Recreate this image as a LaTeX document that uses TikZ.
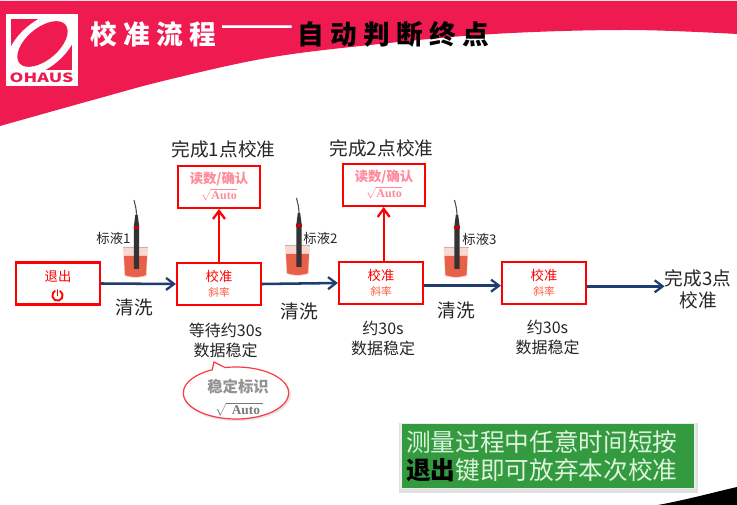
\documentclass[tikz,border=0pt]{standalone}
\usepackage{fontspec}
\usepackage{graphicx}
\setmainfont{Noto Sans CJK SC}
\newfontfamily\serifbold[Scale=1]{Liberation Serif}
\usetikzlibrary{arrows.meta,shapes.callouts,shapes.geometric,calc}
\definecolor{hdr}{HTML}{EE1A50}
\definecolor{navy}{HTML}{1F3D6E}
\definecolor{pinktxt}{HTML}{FF8A9A}
\definecolor{slopetxt}{HTML}{FF5A3C}
\definecolor{greenbox}{HTML}{339A3F}
\definecolor{greentxt}{HTML}{DDF3DC}
\definecolor{liquid}{HTML}{E9604A}
\definecolor{txt}{HTML}{262626}
\tikzset{
  lbl/.style={inner sep=0pt,text=txt,font=\fontsize{14}{16.5}\selectfont,align=center},
  small/.style={inner sep=0pt,text=txt,font=\fontsize{10}{12}\selectfont},
  mid/.style={inner sep=0pt,text=txt,font=\fontsize{12}{15}\selectfont,align=center},
  calbox/.style={draw=red,line width=1.6pt,fill=white,minimum width=63pt,minimum height=31.5pt,inner sep=0pt,align=center,text=red,font=\fontsize{10}{12}\selectfont},
  readbox/.style={draw=red,line width=1.6pt,fill=white,minimum width=61.5pt,minimum height=31.5pt,inner sep=0pt,align=center,text=pinktxt,font=\bfseries\fontsize{10}{12}\selectfont},
  flow/.style={draw=navy,line width=1.9pt,-{Straight Barb[length=6pt,width=9pt,line width=1.7pt]}},
  up/.style={draw=red,line width=1.7pt,-{Straight Barb[length=6pt,width=9pt,line width=1.7pt]}},
  ttl/.style={inner sep=0pt,font=\bfseries\fontsize{20}{22}\selectfont},
}
\newcommand{\slopetext}{\textcolor{slopetxt}{\fontsize{8}{10}\selectfont 斜率}}
\newcommand{\sqauto}{{\serifbold\bfseries\fontsize{9}{10}\selectfont $\sqrt{\hbox{Auto}}$}}
\begin{document}
\begin{tikzpicture}[x=0.75pt,y=-0.75pt]
\useasboundingbox (0,0) rectangle (737,505);
\fill[white] (0,0) rectangle (737,505);
% header band
\fill[hdr] (0,1) -- (737,1) -- plot[smooth,tension=0.6] coordinates {(737,34) (627,30) (493,34) (370,45) (267,58) (167,80) (100,98) (0,126)} -- cycle;
% bottom corner
\fill[black] (658,505) .. controls (690,499) and (715,492) .. (737,487) -- (737,505) -- cycle;
% logo
\fill[white] (6,14) rectangle (78,86);
\begin{scope}
\clip (11,19.5) rectangle (72,70.5);
\fill[hdr] (11,19.5) rectangle (72,70.5);
\fill[white,rotate around={40:(42,44.5)}] (42,44.5) ellipse (42 and 23);
\fill[hdr,rotate around={40:(42.5,44)}] (42.5,44) ellipse (30 and 16);
\end{scope}
\node[inner sep=0pt,text=hdr,font=\bfseries\fontsize{9.5}{10}\selectfont] (ohaus) at (41.5,77.5) {\scalebox{1.4}[1]{OHAUS}};
% title
\node[ttl,text=white,anchor=west] (t1) at (90,34) {校\hspace{4.8pt}准\hspace{4.8pt}流\hspace{4.8pt}程};
\node[inner sep=0pt,text=white,font=\fontsize{33}{35}\selectfont] (t2) at (257,33) {——};
\node[ttl,text=black,anchor=west] (t3) at (297,34) {自\hspace{4.8pt}动\hspace{4.8pt}判\hspace{4.8pt}断\hspace{4.8pt}终\hspace{4.8pt}点};
% beakers and probes
\foreach \bx/\by/\px in {135.5/247/136.5, 297.5/245/299, 456/247/457}{
  \fill[liquid!25] (\bx-12.5,\by) -- (\bx+12.5,\by) -- (\bx+11,\by+29) .. controls (\bx+5,\by+31.5) and (\bx-5,\by+31.5) .. (\bx-11,\by+29) -- cycle;
  \draw[gray!55,line width=0.5pt] (\bx-12.5,\by) -- (\bx+12.5,\by);
  \fill[liquid] (\bx-11.5,\by+9) -- (\bx+11.5,\by+9) -- (\bx+10.5,\by+28) .. controls (\bx+5,\by+30.5) and (\bx-5,\by+30.5) .. (\bx-10.5,\by+28) -- cycle;
  \fill[black!80] (\px-1.2,\by-32) -- (\px+1.2,\by-32) -- (\px+2.6,\by-21) -- (\px+2.6,\by+22) -- (\px-2.6,\by+22) -- (\px-2.6,\by-21) -- cycle;
  \draw[black!70,line width=0.8pt] (\px,\by-32) .. controls (\px,\by-39) and (\px-2,\by-44) .. (\px-2.5,\by-47);
  \fill[red!80!black] (\px-2.8,\by-21) rectangle (\px+2.8,\by-18);
}
% boxes
\node[calbox] (exit) at (58,283.5) {退出\\[-1pt]\phantom{\slopetext}};
\node[calbox] (cal1) at (219,284) {校准\\[-1pt]\slopetext};
\node[calbox] (cal2) at (381,283) {校准\\[-1pt]\slopetext};
\node[calbox] (cal3) at (544,283) {校准\\[-1pt]\slopetext};
\node[readbox] (read1) at (219,187) {读数/确认\\[0pt]\sqauto};
\node[readbox] (read2) at (384,185) {读数/确认\\[0pt]\sqauto};
% power icon
\draw[red,line width=1.4pt,line cap=round] (57.5,290) -- (57.5,295.5);
\draw[red,line width=1.4pt,line cap=round] (60.1,291) arc[start angle=-60,end angle=240,radius=5.2];
% labels
\node[lbl] (done1) at (223.5,149) {完成1点校准};
\node[lbl] (done2) at (381.5,148) {完成2点校准};
\node[lbl] (done3) at (698,289) {完成3点\\校准};
\node[small] (liq1) at (113.5,238) {标液1};
\node[small] (liq2) at (320.5,238) {标液2};
\node[small] (liq3) at (479.5,239) {标液3};
\node[lbl] (wash1) at (134.5,307) {清洗};
\node[lbl] (wash2) at (299.5,311) {清洗};
\node[lbl] (wash3) at (456.5,310) {清洗};
\node[mid] (wait1) at (225.5,340) {等待约30s\\数据稳定};
\node[mid] (wait2) at (383,338) {约30s\\数据稳定};
\node[mid] (wait3) at (547.5,337.5) {约30s\\数据稳定};
% connectors
\draw[flow] (exit.east) -- (cal1.west);
\draw[flow] (cal1.east) -- (cal2.west);
\draw[flow] ([yshift=-2pt]cal2.east) -- ([yshift=-2pt]cal3.west);
\draw[flow] ([yshift=-2.5pt]cal3.east) -- ([yshift=-2.5pt]cal3.east -| done3.west);
\draw[up] (cal1.north) -- (read1.south);
\draw[up] ([xshift=2pt]cal2.north) -- ([xshift=2pt]cal2.north |- read2.south);
% callout
\fill[black!10] (237,394.5) ellipse (54 and 26.5);
\node[ellipse callout,draw=red!70!hdr!80,line width=0.9pt,fill=white,minimum width=79pt,minimum height=39pt,inner sep=0pt,
  callout absolute pointer={(214,362)},callout pointer width=10pt] (stable) at (236,393) {};
\node[inner sep=0pt,text=gray!85,font=\bfseries\fontsize{11.5}{13}\selectfont] (stabletxt) at (238,386.5) {稳定标识};
\node[inner sep=0pt,text=gray!95!black,font=\serifbold\bfseries\fontsize{10}{11}\selectfont] (stableauto) at (239,409) {$\sqrt{\hbox{\hspace{4pt}Auto\hspace{2pt}}}$};
% green note
\fill[black!12] (399,423) rectangle (698,493);
\node[draw=white!92!black,line width=1pt,fill=greenbox,minimum width=220.5pt,minimum height=48.7pt,inner ysep=0pt,inner xsep=3.75pt,text width=213pt,text=greentxt,font=\fontsize{18.5}{21}\selectfont,align=left] (note) at (548,456) {测量过程中任意时间短按\\\textcolor{black}{\bfseries 退出}键即可放弃本次校准};
\end{tikzpicture}
\end{document}
